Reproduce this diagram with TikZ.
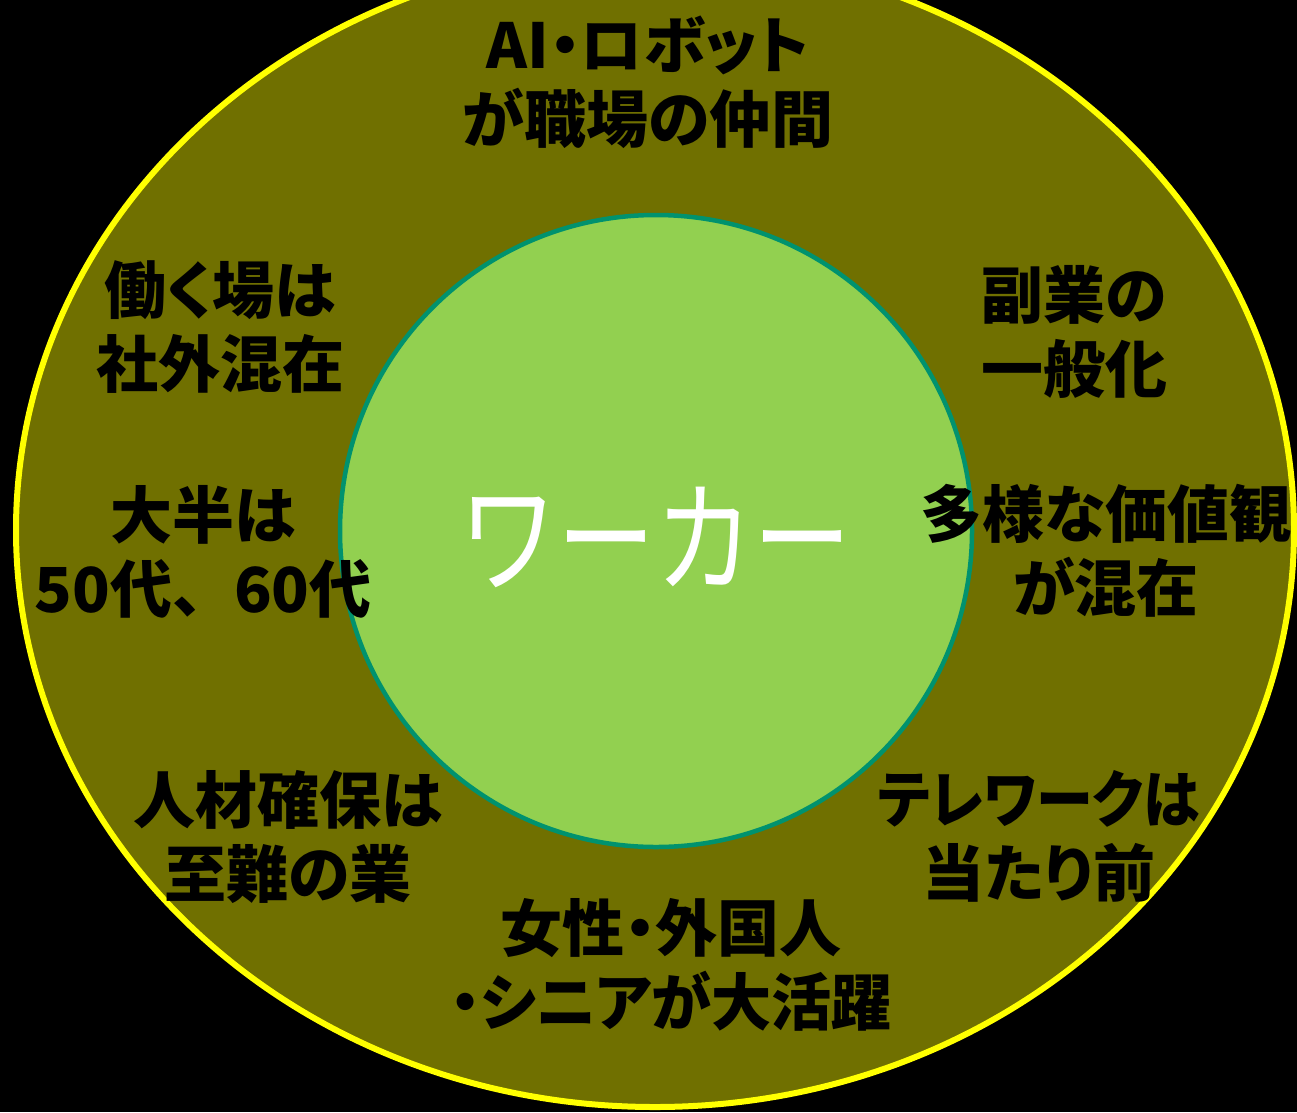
\documentclass[tikz,border=0pt]{standalone}
\usepackage{fontspec}
\newfontfamily\jp{Noto Sans CJK JP}[RawFeature=+palt]
\newfontfamily\jpcore{Noto Sans CJK JP}
\definecolor{olivefill}{RGB}{112,112,0}
\definecolor{coregreen}{RGB}{146,208,80}
\definecolor{coreedge}{RGB}{0,146,110}
\definecolor{rimyellow}{RGB}{255,255,0}
\tikzset{
  lbl/.style={inner sep=0pt, align=center, text=black, font=\jp\bfseries\fontsize{62}{74}\selectfont},
  lblfull/.style={lbl, font=\jpcore\bfseries\fontsize{62}{74}\selectfont},
  core/.style={inner sep=0pt, text=white, font=\jpcore\fontsize{98}{110}\selectfont}
}
\begin{document}
\begin{tikzpicture}[x=1pt,y=-1pt]
\useasboundingbox (0,0) rectangle (1297,1112);
\fill[black] (0,0) rectangle (1297,1112);
\begin{scope}
\clip (0,0) rectangle (1297,1112);
\draw[fill=olivefill, draw=rimyellow, line width=6pt] (655,530) ellipse [x radius=639pt, y radius=577pt];
\end{scope}
\draw[fill=coregreen, draw=coreedge, line width=4.5pt] (656,531) circle [radius=316pt];
\node[core] (worker) at (655,537) {\scalebox{1}[1.25]{ワーカー}};
\node[lbl] (ai) at (648,82) {AI・ロボット\\が職場の仲間};
\node[lbl] (place) at (220,327) {働く場は\\社外混在};
\node[lbl] (side) at (1074,332) {副業の\\一般化};
\node[lblfull] (age) at (203,552) {大半は\\50代、60代};
\node[lbl] (values) at (1106,551) {多様な価値観\\が混在};
\node[lbl] (talent) at (288,837) {人材確保は\\至難の業};
\node[lbl] (tele) at (1039,836) {\scalebox{0.92}[1]{テレワークは}\\当たり前};
\node[lbl] (diverse) at (671,965) {女性・外国人\\\scalebox{0.97}[1]{・シニアが大活躍}};
\end{tikzpicture}
\end{document}
